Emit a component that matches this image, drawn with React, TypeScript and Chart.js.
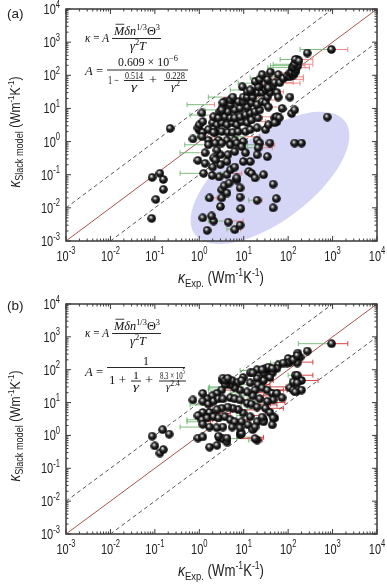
import React, { useEffect, useRef } from 'react';
import { Chart, registerables } from 'chart.js';

Chart.register(...registerables);

// ---------- data ----------
const TICK_VALUES = [0.001, 0.01, 0.1, 1, 10, 100, 1000, 10000];
const TICK_EXPONENTS = ['-3', '-2', '-1', '0', '1', '2', '3', '4'];

const PARITY_LINE: [number, number][] = [[0.001, 0.001], [10000, 10000]];
const UPPER_BOUND: [number, number][] = [[0.001, 0.01], [1000, 10000]];
const LOWER_BOUND: [number, number][] = [[0.01, 0.001], [10000, 1000]];

// panel (a): [kappa_exp, kappa_model]
const A_POINTS: [number, number][] = [
  [0.22, 2.5], [0.087, 0.083], [0.13, 0.11], [0.155, 0.072], [0.155, 0.036], [0.105, 0.018], [0.085, 0.0048],
  [0.72, 1.2], [1.0, 2.2], [0.93, 2.6], [1.0, 3.2], [1.2, 4.0], [1.15, 7.3], [1.2, 1.9], [1.6, 2.3], [2.3, 1.9], [3.2, 2.0],
  [4.4, 1.9], [5.7, 1.9], [7.5, 2.0], [11, 2.0], [14, 2.3], [20, 2.6], [31, 2.3], [36, 3.2], [56, 4.0], [50, 5.2],
  [2.0, 3.7], [2.5, 3.2], [3.2, 3.7], [4.2, 3.2], [5.5, 3.7], [7.0, 3.2], [9.0, 4.0], [12, 3.7], [15, 4.5], [21, 5.2],
  [2.1, 5.6], [2.7, 5.2], [3.8, 5.6], [5.0, 5.2], [6.3, 5.2], [8.3, 5.6], [11, 6.4], [14, 7.3], [18, 8.0], [23, 9.0],
  [2.9, 8.0], [4.4, 8.0], [6.3, 9.0], [8.3, 10], [12, 11], [15, 15], [20, 13], [26, 16], [31, 15], [36, 11],
  [3.4, 11], [3.8, 16], [5.0, 13], [5.7, 18], [7.5, 16], [9.7, 16], [3.4, 15], [3.2, 9.0],
  [9.7, 22], [12, 22], [16, 22], [20, 30], [26, 30], [34, 22], [39, 30], [5.0, 18], [5.7, 22], [9.3, 45], [12, 32], [15, 32], [14, 36],
  [23, 45], [31, 37], [34, 45], [44, 45], [50, 60], [65, 60], [21, 45], [36, 42], [56, 30], [60, 22], [73, 10], [56, 5.6],
  [18, 65], [23, 75], [34, 75], [26, 105], [40, 125], [60, 105], [78, 80], [95, 95], [110, 90], [130, 100], [110, 117],
  [120, 125], [145, 125], [150, 150], [123, 170], [130, 180], [165, 190], [140, 220], [160, 300], [145, 300], [175, 270],
  [270, 470], [940, 600],
  [1.6, 1.1], [2.7, 1.1], [4.2, 1.1], [6.3, 1.1], [9.7, 1.0], [20, 1.1], [39, 0.9], [2.1, 1.9], [1.15, 1.4],
  [1.6, 0.8], [2.3, 0.9], [3.2, 0.9], [5.0, 0.8], [7.0, 0.9], [9.0, 0.7], [6.3, 0.5], [4.4, 0.4], [3.0, 0.4], [2.1, 0.32],
  [1.35, 0.46], [2.5, 0.55], [11, 0.46], [0.93, 0.27],
  [140, 0.9], [200, 0.9], [760, 5.5], [120, 7.0], [140, 9.0], [110, 22], [55, 5.5], [63, 5.2], [50, 3.7],
  [23, 0.9], [21, 0.65], [34, 0.35], [20, 0.4], [14, 0.25], [9.8, 0.25], [13, 0.125], [15, 0.11], [28, 0.1], [18, 0.08], [46, 0.052],
  [7.0, 0.069], [8.3, 0.04], [8.3, 0.021], [20, 0.017], [54, 0.019], [46, 0.01], [8.6, 0.0095], [6.3, 0.0022], [8.3, 0.003], [4.5, 0.0037],
  [2.1, 0.004], [1.9, 0.0057], [1.2, 0.005], [1.5, 0.0021], [1.7, 0.02], [3.2, 0.02], [3.0, 0.011], [3.2, 0.035], [4.2, 0.028], [3.6, 0.046],
  [4.7, 0.056], [7.0, 0.08], [2.8, 0.086], [4.2, 0.1], [1.95, 0.095], [1.25, 0.11], [5.0, 0.14], [6.3, 0.17], [4.2, 0.25], [3.0, 0.2],
  [2.3, 0.28], [2.0, 0.17], [1.35, 0.22],
];

// panel (a) error bars: [kappa_exp, kappa_model, low, high]
const A_ERRORS: [number, number, number, number][] = [
  [940, 600, 185, 2200], [145, 300, 66, 360], [160, 215, 46, 360], [130, 170, 35, 300], [110, 90, 20, 220],
  [110, 75, 60, 220], [65, 60, 30, 130], [110, 195, 40, 240], [56, 117, 23, 90], [34, 83, 14, 60], [23, 58, 7.5, 45],
  [12, 36, 5, 20], [3.3, 22, 1.6, 5], [1.6, 13, 0.53, 2.2], [2.5, 9, 1.35, 3.5], [1.6, 6.3, 0.62, 2.5], [1.6, 1.3, 0.9, 2.2],
  [65, 58, 40, 185], [31, 32, 18, 78], [23, 18, 12, 56], [36, 11, 20, 78], [23, 5.6, 12, 46], [14, 4, 8, 31],
  [10, 1.4, 6, 23], [23, 0.8, 12, 50], [1.25, 0.11, 0.37, 2], [1.25, 0.8, 0.47, 2], [1.0, 0.46, 0.37, 1.6],
  [20, 0.65, 11, 44], [5, 0.11, 3, 9], [1.9, 0.02, 1.35, 2.5], [20, 0.017, 13, 26], [4.5, 0.004, 1.6, 9.7], [7, 0.0023, 4.2, 8.5],
];

// panel (b): [kappa_exp, kappa_model]
const B_POINTS: [number, number][] = [
  [0.72, 12], [0.087, 0.95], [0.15, 1.5], [0.21, 1.1], [0.1, 0.48], [0.13, 0.29], [0.155, 0.37], [0.93, 0.83], [1.2, 0.9],
  [1.7, 0.44], [2.5, 0.5], [2.8, 0.85], [3.4, 0.78], [4.2, 0.63], [8.3, 1.05], [8.6, 1.2], [20, 0.72], [2.7, 0.95], [18, 0.8],
  [9, 1.15], [4.2, 0.83],
  [950, 620], [270, 370], [165, 320], [185, 240], [145, 220], [100, 220], [110, 170], [160, 160], [130, 200], [60, 140],
  [160, 270], [95, 160], [78, 160],
  [145, 68], [200, 47], [145, 44], [110, 28], [130, 24], [165, 24], [200, 24], [160, 68], [130, 42], [160, 40], [145, 21],
  [56, 110], [44, 80], [34, 100], [28, 78], [39, 58], [28, 47], [20, 55], [14, 40], [21, 35], [18, 24], [26, 28], [34, 24],
  [44, 19], [56, 19], [73, 14], [46, 12], [34, 11], [23, 13], [16, 16], [12, 21], [8.3, 24], [6.3, 28], [5, 35], [4.2, 42],
  [3.4, 47], [3.8, 35], [3.2, 24], [2.5, 19], [1.95, 16], [1.5, 13], [1.2, 19], [1.2, 11], [1.6, 9], [2.1, 11], [2.7, 13],
  [3.4, 13], [5, 14], [6.3, 13], [8.3, 12], [12, 9.6], [15, 9], [20, 7.3], [31, 6.7], [39, 5], [50, 3.4], [28, 3], [20, 2.6],
  [14, 3.7], [9.7, 4.8], [7.5, 6.1], [5.7, 6.7], [4.4, 7.3], [3.2, 6.7], [2.5, 6.1], [1.7, 5], [1.2, 5], [0.93, 4], [1.15, 3],
  [1.5, 3.4], [2.1, 3.7], [2.7, 3.4], [3.8, 3.7], [5, 3], [6.3, 2.6], [9, 2.6], [12.5, 2.1], [16, 1.5], [8.3, 1.7], [5.5, 1.8],
  [3.4, 1.8], [2.5, 1.7], [1.7, 1.8], [1.2, 2.2], [3.4, 55], [5.5, 47], [7.5, 42], [9.7, 58], [14, 80], [20, 100], [31, 110],
  [36, 120], [26, 100], [44, 110], [16, 80], [3.8, 47], [4.4, 55], [9, 47], [46, 3.4], [44, 2.1], [28, 2.6], [26, 3.6], [18, 1.8],
];

// panel (b) error bars: [kappa_exp, kappa_model, low, high]
const B_ERRORS: [number, number, number, number][] = [
  [950, 620, 170, 2200], [23, 95, 8.3, 40], [3.4, 24, 1.6, 6], [78, 160, 40, 120], [110, 170, 56, 360], [165, 68, 100, 360],
  [185, 47, 110, 470], [56, 24, 35, 95], [23, 13, 12, 65], [34, 8.5, 20, 56], [1.0, 1.8, 0.37, 1.6], [1.2, 2.6, 0.53, 1.8],
  [12, 0.88, 7, 28], [4.2, 28, 1.6, 7], [1.2, 8.5, 0.62, 2], [1.2, 3, 0.53, 2], [14, 35, 8, 39], [23, 24, 12, 78],
  [34, 10, 18, 85], [7, 6, 4, 20], [4.2, 3, 2.5, 12], [8.3, 0.8, 5, 20], [2.1, 4.7, 1.2, 5], [2.5, 14, 1.5, 7],
  [7, 12, 4, 14], [14, 16, 8, 28], [20, 47, 12, 46], [12, 47, 4.2, 20], [4.4, 30, 1.7, 8], [23, 6.7, 12, 78], [20, 0.72, 13, 26],
  [9, 20, 5, 30], [16, 9, 9, 40], [28, 16, 15, 60], [12, 4, 7, 30], [40, 30, 20, 90],
];

// centre of the highlighted region in panel (a) (data coordinates)
const A_REGION_CENTER: [number, number] = [39, 0.08];

// ---------- drawing helpers ----------
const SANS = '"Liberation Sans", Arial, sans-serif';
const SERIF = '"Liberation Serif", "DejaVu Serif", serif';

type Seg = { t: string; f?: number; dy?: number; it?: boolean; bar?: boolean };

function fontOf(s: Seg, base: number, fam: string) {
  return `${s.it ? 'italic ' : ''}${s.f ?? base}px ${fam}`;
}
function widthOf(ctx: CanvasRenderingContext2D, segs: Seg[], base: number, fam: string) {
  let w = 0;
  for (const s of segs) {
    ctx.font = fontOf(s, base, fam);
    w += ctx.measureText(s.t).width;
  }
  return w;
}
function drawSegs(
  ctx: CanvasRenderingContext2D, segs: Seg[], x: number, y: number, base: number, fam: string,
  align: 'left' | 'center' | 'right' = 'left', sx = 1,
) {
  const w = widthOf(ctx, segs, base, fam) * sx;
  let cx = align === 'left' ? x : align === 'center' ? x - w / 2 : x - w;
  ctx.textAlign = 'left';
  ctx.textBaseline = 'alphabetic';
  for (const s of segs) {
    ctx.font = fontOf(s, base, fam);
    const sw = ctx.measureText(s.t).width;
    ctx.save();
    ctx.translate(cx, y + (s.dy ?? 0));
    ctx.scale(sx, 1);
    ctx.fillText(s.t, 0, 0);
    if (s.bar) {
      const h = (s.f ?? base) * 0.86;
      ctx.lineWidth = 0.8;
      ctx.beginPath();
      ctx.moveTo(1.5, -h);
      ctx.lineTo(sw, -h);
      ctx.stroke();
    }
    ctx.restore();
    cx += sw * sx;
  }
  return w;
}
// draw text squeezed/stretched horizontally so that it spans x1..x2
function fit(ctx: CanvasRenderingContext2D, segs: Seg[], x1: number, x2: number, y: number, base = 12) {
  const w = widthOf(ctx, segs, base, SERIF);
  drawSegs(ctx, segs, x1, y, base, SERIF, 'left', (x2 - x1) / w);
}
function hline(ctx: CanvasRenderingContext2D, x1: number, x2: number, y: number) {
  ctx.lineWidth = 0.9;
  ctx.beginPath();
  ctx.moveTo(x1, y);
  ctx.lineTo(x2, y);
  ctx.stroke();
}

function drawKappaEq(ctx: CanvasRenderingContext2D, T: number) {
  fit(ctx, [{ t: 'κ', it: true }, { t: ' = ' }, { t: 'A', it: true }], 85, 109, T + 33, 12.5);
  fit(ctx, [
    { t: 'M', it: true, bar: true }, { t: 'δn', it: true }, { t: '1/3', f: 8.5, dy: -5 },
    { t: 'Θ' }, { t: '3', f: 8.5, dy: -5 },
  ], 114, 160, T + 26, 12.5);
  hline(ctx, 112, 161, T + 29.5);
  fit(ctx, [{ t: 'γ', it: true }, { t: '2', f: 8.5, dy: -5 }, { t: 'T', it: true }], 130, 146, T + 41, 12.5);
}

function drawAEqA(ctx: CanvasRenderingContext2D, T: number) {
  fit(ctx, [{ t: 'A', it: true }, { t: ' =' }], 85, 103, T + 66, 12.5);
  fit(ctx, [{ t: '0.609 × 10' }, { t: '−6', f: 8.5, dy: -5 }], 118, 178, T + 57);
  hline(ctx, 107, 188, T + 61);
  fit(ctx, [{ t: '1 − ' }], 108, 121, T + 74.5);
  fit(ctx, [{ t: '0.514' }], 125, 143, T + 69.5, 10.5);
  hline(ctx, 124, 144, T + 71.5);
  fit(ctx, [{ t: 'γ', it: true }], 131, 137, T + 80.5, 10.5);
  fit(ctx, [{ t: '+' }], 149, 157, T + 74.5);
  fit(ctx, [{ t: '0.228' }], 166, 185, T + 69.5, 10.5);
  hline(ctx, 164, 187, T + 71.5);
  fit(ctx, [{ t: 'γ', it: true }, { t: '2', f: 7.5, dy: -4 }], 171, 180, T + 80.5, 10.5);
}

function drawAEqB(ctx: CanvasRenderingContext2D, T: number) {
  fit(ctx, [{ t: 'A', it: true }, { t: ' =' }], 85, 103, T + 71.5, 12.5);
  fit(ctx, [{ t: '1' }], 143, 149, T + 60.5);
  hline(ctx, 107, 185, T + 63.5);
  fit(ctx, [{ t: '1 +' }], 109, 126, T + 80);
  fit(ctx, [{ t: '1' }], 133, 139, T + 74.5, 10.5);
  hline(ctx, 131, 141, T + 77);
  fit(ctx, [{ t: 'γ', it: true }], 133, 139, T + 86, 10.5);
  fit(ctx, [{ t: '+' }], 145, 153, T + 80);
  fit(ctx, [{ t: '8.3 × 10' }, { t: '5', f: 7.5, dy: -4.5 }], 160, 185, T + 74.5, 10.5);
  hline(ctx, 159, 186, T + 77);
  fit(ctx, [{ t: 'γ', it: true }, { t: '2.4', f: 7.5, dy: -4 }], 166, 180, T + 86, 10.5);
}

function makeSphere() {
  const c = document.createElement('canvas');
  c.width = 9;
  c.height = 9;
  const g = c.getContext('2d') as CanvasRenderingContext2D;
  const grd = g.createRadialGradient(3.4, 3.0, 0.1, 4.5, 4.5, 4.6);
  grd.addColorStop(0, '#ffffff');
  grd.addColorStop(0.2, '#a8a8a8');
  grd.addColorStop(0.45, '#262626');
  grd.addColorStop(1, '#000000');
  g.fillStyle = grd;
  g.beginPath();
  g.arc(4.5, 4.5, 4.3, 0, Math.PI * 2);
  g.fill();
  return c;
}

type PanelCfg = {
  label: string;
  top: number;
  labelY: number;
  points: [number, number][];
  errors: [number, number, number, number][];
  region: boolean;
  redColor: string;
  variant: 'a' | 'b';
};

const W = 387;
const H = 293;

function Panel({ cfg }: { cfg: PanelCfg }) {
  const ref = useRef<HTMLCanvasElement>(null);

  useEffect(() => {
    const canvas = ref.current;
    if (!canvas) return;
    const sphere = makeSphere();

    const deco = {
      id: 'deco',
      beforeDatasetsDraw(chart: any) {
        if (!cfg.region) return;
        const { ctx, scales } = chart;
        const cx = scales.x.getPixelForValue(A_REGION_CENTER[0]);
        const cy = scales.y.getPixelForValue(A_REGION_CENTER[1]);
        ctx.save();
        ctx.fillStyle = '#d5d6f5';
        ctx.beginPath();
        ctx.ellipse(cx, cy, 94, 43, (-37 * Math.PI) / 180, 0, Math.PI * 2);
        ctx.fill();
        ctx.restore();
      },
      beforeDatasetDraw(chart: any, args: any) {
        if (args.index !== 0) return;
        const { ctx, scales } = chart;
        ctx.save();
        ctx.lineWidth = 1;
        for (const [x, y, lo, hi] of cfg.errors) {
          const px = scales.x.getPixelForValue(x);
          const py = scales.y.getPixelForValue(y);
          const pl = scales.x.getPixelForValue(lo);
          const ph = scales.x.getPixelForValue(hi);
          ctx.strokeStyle = 'rgba(105,178,105,0.85)';
          ctx.beginPath();
          ctx.moveTo(pl, py); ctx.lineTo(px, py);
          ctx.moveTo(pl, py - 2.5); ctx.lineTo(pl, py + 2.5);
          ctx.stroke();
          ctx.strokeStyle = cfg.redColor;
          ctx.beginPath();
          ctx.moveTo(px, py); ctx.lineTo(ph, py);
          ctx.moveTo(ph, py - 2.5); ctx.lineTo(ph, py + 2.5);
          ctx.stroke();
        }
        ctx.restore();
      },
      afterDraw(chart: any) {
        const { ctx, chartArea, scales } = chart;
        const { left, right, top, bottom } = chartArea;
        ctx.save();
        // frame
        ctx.strokeStyle = '#3a3a3a';
        ctx.lineWidth = 1.5;
        ctx.strokeRect(left, top, right - left, bottom - top);
        // inward ticks on all four sides
        ctx.lineWidth = 1;
        ctx.beginPath();
        for (let i = 0; i < TICK_VALUES.length; i++) {
          for (let m = 1; m <= 9; m++) {
            if (i === TICK_VALUES.length - 1 && m > 1) break;
            const v = TICK_VALUES[i] * m;
            const len = m === 1 ? 5 : 2.5;
            const px = scales.x.getPixelForValue(v);
            ctx.moveTo(px, bottom); ctx.lineTo(px, bottom - len);
            ctx.moveTo(px, top); ctx.lineTo(px, top + len);
            const py = scales.y.getPixelForValue(v);
            ctx.moveTo(left, py); ctx.lineTo(left + len, py);
            ctx.moveTo(right, py); ctx.lineTo(right - len, py);
          }
        }
        ctx.stroke();

        ctx.fillStyle = '#222';
        ctx.strokeStyle = '#222';
        // tick labels
        for (let i = 0; i < TICK_VALUES.length; i++) {
          const segs: Seg[] = [{ t: '10' }, { t: TICK_EXPONENTS[i], f: 10, dy: -6.5 }];
          const px = scales.x.getPixelForValue(TICK_VALUES[i]);
          drawSegs(ctx, segs, px, bottom + 19.5, 14.5, SANS, 'center', 0.76);
          const py = scales.y.getPixelForValue(TICK_VALUES[i]);
          drawSegs(ctx, segs, left - 6, py + 5, 14.5, SANS, 'right', 0.76);
        }
        // x title
        const xt: Seg[] = [
          { t: 'κ', it: true, f: 17 }, { t: 'Exp.', f: 11.5, dy: 4 }, { t: ' (Wm' }, { t: '-1', f: 10.5, dy: -7 },
          { t: 'K' }, { t: '-1', f: 10.5, dy: -7 }, { t: ')' },
        ];
        const xw = widthOf(ctx, xt, 16, SANS);
        drawSegs(ctx, xt, 221, bottom + 42, 16, SANS, 'center', 86 / xw);
        // y title (rotated)
        const yt: Seg[] = [
          { t: 'κ', it: true, f: 16 }, { t: 'Slack model', f: 11, dy: 3 }, { t: ' (Wm' }, { t: '-1', f: 9.5, dy: -6 },
          { t: 'K' }, { t: '-1', f: 9.5, dy: -6 }, { t: ')' },
        ];
        const yw = widthOf(ctx, yt, 14.5, SANS);
        ctx.save();
        ctx.translate(19.5, (top + bottom) / 2 + 7);
        ctx.rotate(-Math.PI / 2);
        drawSegs(ctx, yt, 0, 0, 14.5, SANS, 'center', 111 / yw);
        ctx.restore();
        // panel label
        ctx.font = `13.5px ${SANS}`;
        ctx.textAlign = 'left';
        ctx.fillText(cfg.label, 7, cfg.labelY);
        // formulas
        ctx.fillStyle = '#111';
        ctx.strokeStyle = '#111';
        drawKappaEq(ctx, top);
        if (cfg.variant === 'a') drawAEqA(ctx, top);
        else drawAEqB(ctx, top);
        ctx.restore();
      },
    };

    const toXY = (arr: [number, number][]) => arr.map(([x, y]) => ({ x, y }));

    const chart = new Chart(canvas, {
      type: 'scatter',
      data: {
        datasets: [
          {
            data: toXY(cfg.points),
            pointStyle: sphere as any,
            pointRadius: 4.5,
            showLine: false,
          },
          {
            data: toXY(PARITY_LINE),
            showLine: true,
            borderColor: '#a5554f',
            borderWidth: 1,
            pointRadius: 0,
          },
          {
            data: toXY(UPPER_BOUND),
            showLine: true,
            borderColor: '#555555',
            borderWidth: 1,
            borderDash: [4, 3],
            pointRadius: 0,
          },
          {
            data: toXY(LOWER_BOUND),
            showLine: true,
            borderColor: '#555555',
            borderWidth: 1,
            borderDash: [4, 3],
            pointRadius: 0,
          },
        ],
      } as any,
      options: {
        responsive: false,
        animation: false,
        events: [],
        layout: { padding: { left: 66, right: 10, top: cfg.top, bottom: H - 241 } },
        scales: {
          x: { type: 'logarithmic', min: 0.001, max: 10000, display: false },
          y: { type: 'logarithmic', min: 0.001, max: 10000, display: false },
        },
        plugins: { legend: { display: false }, tooltip: { enabled: false } },
      } as any,
      plugins: [deco as any],
    });

    return () => chart.destroy();
  }, [cfg]);

  return <canvas ref={ref} width={W} height={H} style={{ display: 'block', width: W, height: H }} />;
}

const PANEL_A: PanelCfg = {
  label: '(a)', top: 9, labelY: 18, points: A_POINTS, errors: A_ERRORS, region: true,
  redColor: 'rgba(238,120,120,0.85)', variant: 'a',
};
const PANEL_B: PanelCfg = {
  label: '(b)', top: 11, labelY: 17, points: B_POINTS, errors: B_ERRORS, region: false,
  redColor: 'rgba(205,40,40,0.85)', variant: 'b',
};

export default function App() {
  return (
    <div style={{ position: 'absolute', left: 0, top: 0, width: W, height: 586, background: '#fff' }}>
      <Panel cfg={PANEL_A} />
      <Panel cfg={PANEL_B} />
    </div>
  );
}
